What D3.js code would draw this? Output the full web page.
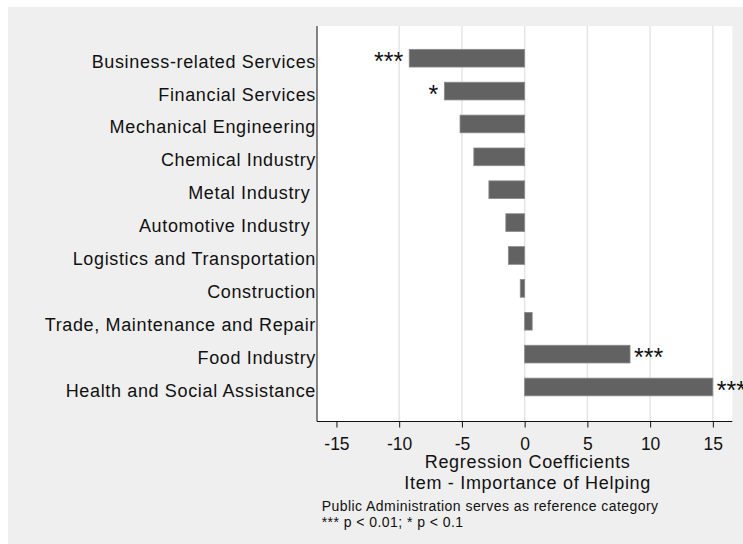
<!DOCTYPE html>
<html>
<head>
<meta charset="utf-8">
<script src="https://cdn.jsdelivr.net/npm/d3@7"></script>
<style>
	body { margin: 0; background: #ffffff; }
	svg text { font-family: "Liberation Sans", Arial, sans-serif; fill: #111111; }
	.catLabel { white-space: pre; }
</style>
</head>
<body>
<div class="container"></div>
<script>
// categories from top to bottom, with their coefficient and significance stars
var categories = [
	'Business-related Services',
	'Financial Services',
	'Mechanical Engineering',
	'Chemical Industry',
	'Metal Industry ',
	'Automotive Industry ',
	'Logistics and Transportation',
	'Construction',
	'Trade, Maintenance and Repair',
	'Food Industry',
	'Health and Social Assistance'
];
var coefficients = [-9.2, -6.4, -5.15, -4.05, -2.85, -1.5, -1.3, -0.35, 0.6, 8.4, 15.0];
var stars = ['***', '*', '', '', '', '', '', '', '', '***', '***'];
var xTicks = [-15, -10, -5, 0, 5, 10, 15];
var xTitle = ['Regression Coefficients', 'Item - Importance of Helping'];
var notes = ['Public Administration serves as reference category', '*** p < 0.01; * p < 0.1'];

const WIDTH = 743;
const HEIGHT = 544;
const PLOT_LEFT = 317;
const PLOT_RIGHT = 732.3;
const PLOT_TOP = 26;
const PLOT_BOTTOM = 421.5;
const BAR_H = 17.7;

var _xScale;
var _yScale;

var onload = function() {
	var svg = d3.select('.container').append('svg')
		.attr('width', WIDTH)
		.attr('height', HEIGHT);

	// outer grey frame and white plot region
	svg.append('rect')
		.attr('x', 8).attr('y', 7)
		.attr('width', WIDTH - 8).attr('height', HEIGHT - 7)
		.attr('fill', '#efefef');
	svg.append('rect')
		.attr('x', PLOT_LEFT).attr('y', PLOT_TOP)
		.attr('width', PLOT_RIGHT - PLOT_LEFT).attr('height', PLOT_BOTTOM - PLOT_TOP)
		.attr('fill', '#ffffff');

	_xScale = d3.scaleLinear()
		.domain([-16.55, 16.55])
		.range([PLOT_LEFT, PLOT_RIGHT]);
	_yScale = d3.scalePoint()
		.domain(categories)
		.range([58.2, 387]);

	drawGrid(svg);
	drawBars(svg);
	drawAxis(svg);
	drawTexts(svg);
}

var drawGrid = function(svg) {
	// stata skips the grid line at the first tick
	svg.append('g').selectAll('line')
		.data(xTicks.slice(1))
		.enter().append('line')
		.attr('x1', function(d){ return _xScale(d); })
		.attr('x2', function(d){ return _xScale(d); })
		.attr('y1', PLOT_TOP)
		.attr('y2', PLOT_BOTTOM)
		.attr('stroke', '#e4e4e4')
		.attr('stroke-width', 1.4);
}

var drawBars = function(svg) {
	var g = svg.append('g').classed('bars', true);

	g.selectAll('rect')
		.data(coefficients)
		.enter().append('rect')
		.attr('x', function(d){ return _xScale(Math.min(0, d)); })
		.attr('y', function(d, i){ return _yScale(categories[i]) - BAR_H / 2; })
		.attr('width', function(d){ return Math.abs(_xScale(d) - _xScale(0)); })
		.attr('height', BAR_H)
		.attr('fill', '#626262')
		.attr('stroke', '#8a8a8a')
		.attr('stroke-width', 0.8);

	// the last label runs off the right edge, as in the original
	g.selectAll('text')
		.data(coefficients)
		.enter().append('text')
		.attr('x', function(d){ return d < 0 ? _xScale(d) - 6 : _xScale(d) + 4; })
		.attr('y', function(d, i){ return _yScale(categories[i]) + 11.5; })
		.attr('text-anchor', function(d){ return d < 0 ? 'end' : 'start'; })
		.style('font-size', '25px')
		.text(function(d, i){ return stars[i]; });
}

var drawAxis = function(svg) {
	var xAxis = d3.axisBottom(_xScale)
		.tickValues(xTicks)
		.tickSize(6)
		.tickPadding(8)
		.tickFormat(function(d){ return String(d); });

	var ax = svg.append('g')
		.attr('transform', 'translate(0,' + PLOT_BOTTOM + ')')
		.call(xAxis);
	ax.select('.domain')
		.attr('d', 'M' + PLOT_LEFT + ',0H' + PLOT_RIGHT)
		.attr('stroke', '#111');
	ax.selectAll('.tick line').attr('stroke', '#111');
	ax.selectAll('.tick text')
		.attr('dy', null)
		.attr('y', 28.5)
		.style('font-size', '17.5px')
		.style('font-family', '"Liberation Sans", Arial, sans-serif')
		.attr('fill', '#111');

	// left axis: line only, category names as labels
	svg.append('line')
		.attr('x1', PLOT_LEFT).attr('x2', PLOT_LEFT)
		.attr('y1', PLOT_TOP).attr('y2', PLOT_BOTTOM)
		.attr('stroke', '#111');

	svg.append('g').selectAll('text')
		.data(categories)
		.enter().append('text')
		.classed('catLabel', true)
		.attr('x', PLOT_LEFT - 1)
		.attr('y', function(d){ return _yScale(d) + 9.5; })
		.attr('text-anchor', 'end')
		.style('font-size', '18px')
		.style('letter-spacing', '0.65px')
		.text(function(d){ return d; });
}

var drawTexts = function(svg) {
	var cx = (PLOT_LEFT + PLOT_RIGHT) / 2 + 3;
	svg.append('g').selectAll('text')
		.data(xTitle)
		.enter().append('text')
		.attr('x', cx)
		.attr('y', function(d, i){ return 468.3 + i * 20.7; })
		.attr('text-anchor', 'middle')
		.style('font-size', '18px')
		.style('letter-spacing', '0.7px')
		.text(function(d){ return d; });

	svg.append('g').selectAll('text')
		.data(notes)
		.enter().append('text')
		.attr('x', 321.7)
		.attr('y', function(d, i){ return 511 + i * 15.5; })
		.style('font-size', '14px')
		.style('letter-spacing', '0.45px')
		.text(function(d){ return d; });
}

window.onload = onload;
</script>
</body>
</html>
